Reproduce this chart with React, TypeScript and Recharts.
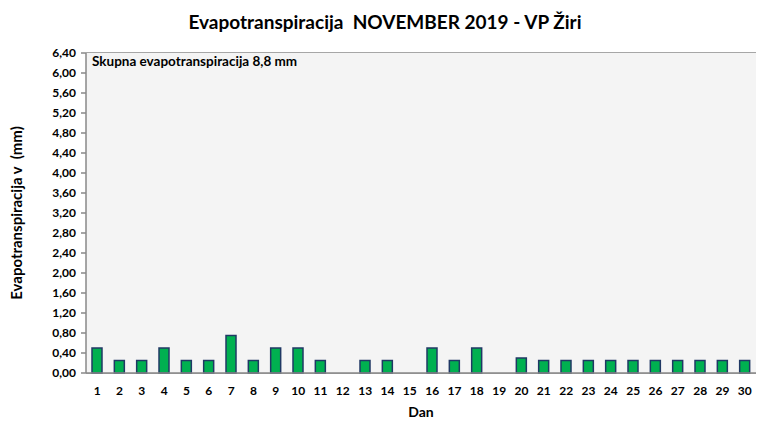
import React from 'react';
import { BarChart, Bar, XAxis, YAxis, CartesianGrid } from 'recharts';

const days = [
  '1', '2', '3', '4', '5', '6', '7', '8', '9', '10',
  '11', '12', '13', '14', '15', '16', '17', '18', '19', '20',
  '21', '22', '23', '24', '25', '26', '27', '28', '29', '30',
];

const evapo = [
  0.5, 0.25, 0.25, 0.5, 0.25, 0.25, 0.75, 0.25, 0.5, 0.5,
  0.25, 0, 0.25, 0.25, 0, 0.5, 0.25, 0.5, 0, 0.3,
  0.25, 0.25, 0.25, 0.25, 0.25, 0.25, 0.25, 0.25, 0.25, 0.25,
];

const yTicks = [0, 0.4, 0.8, 1.2, 1.6, 2.0, 2.4, 2.8, 3.2, 3.6, 4.0, 4.4, 4.8, 5.2, 5.6, 6.0, 6.4];

const data = days.map((d, i) => ({ day: d, value: evapo[i] }));

const FONT = 'Lato, "Open Sans", sans-serif';
const fmt = (v: number) => v.toFixed(2).replace('.', ',');

const App: React.FC = () => {
  return (
    <div style={{ position: 'absolute', left: 0, top: 0, width: 770, height: 439, background: '#fff', fontFamily: FONT }}>
      <BarChart
        width={770}
        height={439}
        data={data}
        barSize={10}
        margin={{ top: 53, right: 14, bottom: 36, left: 0 }}
      >
        <rect x={86} y={53} width={670} height={320} fill="#f4f4f4" />
        <CartesianGrid vertical={false} stroke="#888888" strokeWidth={1.5} />
        <XAxis
          dataKey="day"
          height={30}
          tickSize={0}
          tickMargin={13}
          axisLine={{ stroke: '#888888', strokeWidth: 1.5 }}
          tick={{ fill: '#000', fontSize: 12, fontWeight: 700, fontFamily: FONT }}
          interval={0}
        />
        <YAxis
          width={86}
          domain={[0, 6.4]}
          ticks={yTicks}
          interval={0}
          tickFormatter={fmt}
          tickSize={5}
          tickMargin={5}
          tickLine={{ stroke: '#888888', strokeWidth: 1.5 }}
          axisLine={{ stroke: '#888888', strokeWidth: 1.5 }}
          tick={{ fill: '#000', fontSize: 12, fontWeight: 700, fontFamily: FONT }}
        />
        <Bar dataKey="value" fill="#00b050" stroke="#203864" strokeWidth={1.5} isAnimationActive={false} />
        <text x={385} y={29} textAnchor="middle" fontSize={19} fontWeight={700} fontFamily={FONT} fill="#000" style={{ whiteSpace: 'pre' }}>
          Evapotranspiracija  NOVEMBER 2019 - VP Žiri
        </text>
        <text x={92} y={66} fontSize={13.5} fontWeight={700} fontFamily={FONT} fill="#000">
          Skupna evapotranspiracija 8,8 mm
        </text>
        <text
          x={22}
          y={213}
          transform="rotate(-90 22 213)"
          textAnchor="middle"
          fontSize={15}
          fontWeight={700}
          fontFamily={FONT}
          fill="#000"
          style={{ whiteSpace: 'pre' }}
        >
          Evapotranspiracija v  (mm)
        </text>
        <text x={421} y={417} textAnchor="middle" fontSize={14} fontWeight={700} fontFamily={FONT} fill="#000">
          Dan
        </text>
      </BarChart>
    </div>
  );
};

export default App;
